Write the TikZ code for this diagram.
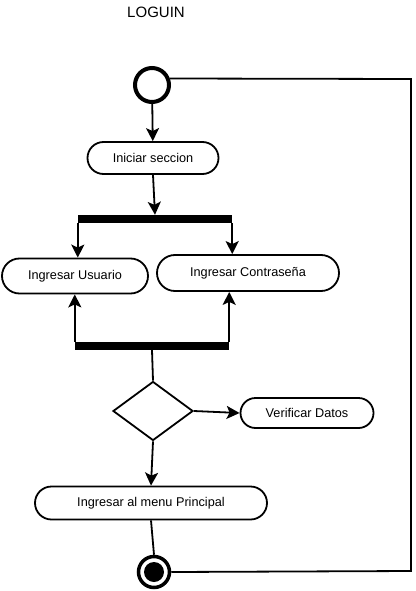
\documentclass[tikz,border=0pt]{standalone}
\usepackage{fontspec}
\setmainfont{Liberation Sans}
\usetikzlibrary{shapes.misc,shapes.geometric,arrows.meta}
\tikzset{
    act/.style={draw, rounded rectangle, line width=1.8pt, inner sep=0pt, font=\fontsize{12.7}{14}\selectfont},
    bar/.style={fill=black, rectangle, inner sep=0pt, minimum height=8pt},
    flow/.style={line width=1.8pt, -{Stealth[length=13pt,width=13pt,inset=3pt]}},
    plain/.style={line width=1.8pt}
}
\begin{document}
\begin{tikzpicture}[x=1pt,y=-1pt]
    \useasboundingbox (0,0) rectangle (415,591);
    \node[font=\fontsize{15}{17}\selectfont] (titulo) at (156,12) {LOGUIN};
    % inicio
    \node[circle, draw, line width=4pt, minimum size=34pt, inner sep=0pt] (inicio) at (152,85) {};
    \node[act, minimum width=131pt, minimum height=32pt] (seccion) at (153,158) {Iniciar seccion};
    \node[bar, minimum width=154pt] (fork) at (155,219) {};
    \node[act, minimum width=146pt, minimum height=35pt] (usuario) at (75,276) {Ingresar Usuario};
    \node[act, minimum width=182pt, minimum height=36pt] (clave) at (248,273) {Ingresar Contraseña};
    \node[bar, minimum width=154pt] (join) at (152,346) {};
    \node[diamond, draw, line width=1.8pt, minimum width=80pt, minimum height=59pt, inner sep=0pt] (decision) at (153,411) {};
    \node[act, minimum width=133pt, minimum height=30pt] (verificar) at (307,413) {Verificar Datos};
    \node[act, minimum width=232pt, minimum height=33pt] (menu) at (151,503) {Ingresar al menu Principal};
    % fin
    \node[circle, draw, line width=3.5pt, minimum size=31pt, inner sep=0pt] (fin) at (154,572) {};
    \fill (fin.center) circle (10);
    \coordinate (arriba) at (411,79);
    \coordinate (abajo) at (411,571);

    \draw[flow] (inicio) -- (seccion);
    \draw[flow] (seccion.south) -- (fork.north);
    \draw[flow] (fork.south west) -- (fork.south west |- usuario.north);
    \draw[flow] (fork.south east) -- (fork.south east |- clave.north);
    \draw[flow] (join.north west) -- (join.north west |- usuario.south);
    \draw[flow] (join.north east) -- (join.north east |- clave.south);
    \draw[plain] (join.south) -- (decision.north);
    \draw[flow] (decision.east) -- (verificar.west);
    \draw[flow] (decision.south) -- (menu.north);
    \draw[plain] (menu.south) -- (fin.north);
    \draw[plain] (inicio.20) -- (arriba) -- (abajo) -- (fin.east);
\end{tikzpicture}
\end{document}
